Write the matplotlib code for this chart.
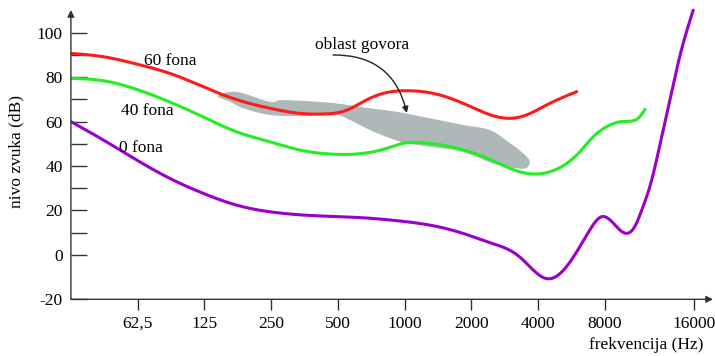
import numpy as np
import matplotlib
matplotlib.use("Agg")
import matplotlib.pyplot as plt

plt.rcParams['font.family'] = 'Liberation Serif'

# ---- data (frequency in Hz, level in dB) ----
red_f = [31.25, 43.8, 61.9, 87.4, 123.5, 152, 187, 247, 337, 429, 550, 649, 774,
         1023, 1300, 1830, 2424, 2884, 3550, 4370, 5980]
red_db = [90.7, 89.2, 85.9, 81.7, 75.7, 72.0, 69.0, 66.0, 63.7, 63.4, 65.2, 68.9,
          72.3, 73.9, 73.0, 68.3, 63.1, 61.5, 63.0, 67.5, 73.5]

green_f = [31.25, 43.8, 61.9, 87.4, 123.5, 174.6, 247, 337, 461, 649, 832, 982,
           1210, 1720, 2424, 3310, 3950, 4665, 6170, 7090, 8150, 9340, 10740,
           11310, 12130]
green_db = [79.5, 78.4, 74.5, 68.8, 62.1, 55.4, 50.9, 47.2, 45.4, 45.7, 48.0, 50.2,
            50.5, 48.0, 43.0, 37.4, 36.4, 37.9, 46.4, 53.2, 57.7, 59.9, 60.4,
            61.5, 65.5]

purple_f = [31.25, 43.8, 61.9, 87.4, 123.5, 174.6, 247, 400, 649, 923, 1300, 1830,
            2424, 3310, 3950, 4370, 5010, 6170, 6850, 7740, 8730, 9850, 10920,
            11900, 12760, 13680, 14650, 15710, 16830, 18040, 20020]
purple_db = [60.0, 51.7, 42.7, 34.4, 27.7, 22.4, 19.4, 17.6, 16.7, 15.4, 13.4, 9.7,
             5.5, -1.0, -8.3, -10.7, -8.5, 3.7, 11.3, 17.2, 14.3, 9.8, 12.8, 21.8,
             30.7, 42.7, 56.2, 69.7, 83.2, 95.2, 110.2]

speech_f = [144, 174.6, 247, 283, 461, 698, 923, 1300, 1830, 2424, 2990, 3420, 3660,
            3550, 3200, 2500, 1830, 1300, 1023, 859, 698, 567, 486, 337, 247, 187, 163]
speech_db = [71.5, 73.4, 68.9, 69.7, 68.5, 66.0, 64.4, 61.5, 58.5, 56.2, 50.3, 45.8,
             42.3, 39.2, 39.0, 41.2, 46.4, 48.7, 50.2, 52.5, 56.2, 60.7, 63.0, 62.5,
             63.0, 66.0, 69.0]

xtick_labels = ["62,5", "125", "250", "500", "1000", "2000", "4000", "8000", "16000"]
xtick_hz = [62.5, 125, 250, 500, 1000, 2000, 4000, 8000, 20200]
ytick_vals = [-20, 0, 10, 20, 30, 40, 50, 60, 70, 80, 90, 100]
ytick_labels = ["-20", "0", "", "20", "", "40", "", "60", "", "80", "", "100"]


def spline(f, v, n=800):
    """Natural cubic spline of level vs log2(frequency)."""
    x = np.log2(np.asarray(f, float))
    y = np.asarray(v, float)
    m = len(x)
    h = np.diff(x)
    A = np.zeros((m, m))
    r = np.zeros(m)
    A[0, 0] = A[-1, -1] = 1
    for i in range(1, m - 1):
        A[i, i - 1] = h[i - 1]
        A[i, i] = 2 * (h[i - 1] + h[i])
        A[i, i + 1] = h[i]
        r[i] = 3 * ((y[i + 1] - y[i]) / h[i] - (y[i] - y[i - 1]) / h[i - 1])
    c = np.linalg.solve(A, r)
    b = (y[1:] - y[:-1]) / h - h * (2 * c[:-1] + c[1:]) / 3
    d = (c[1:] - c[:-1]) / (3 * h)
    xs = np.linspace(x[0], x[-1], n)
    k = np.clip(np.searchsorted(x, xs) - 1, 0, m - 2)
    dx = xs - x[k]
    ys = y[k] + b[k] * dx + c[k] * dx ** 2 + d[k] * dx ** 3
    return 2 ** xs, ys


def closed_smooth(f, v, n=12):
    sx, sy = 66.76, 2.222
    P = np.column_stack([np.log2(f) * sx, np.asarray(v, float) * sy])
    m = len(P)
    t = np.linspace(0, 1, n, endpoint=False)[:, None]
    segs = []
    for i in range(m):
        p0, p1, p2, p3 = P[i - 1], P[i], P[(i + 1) % m], P[(i + 2) % m]
        segs.append(0.5 * (2 * p1 + (-p0 + p2) * t
                           + (2 * p0 - 5 * p1 + 4 * p2 - p3) * t ** 2
                           + (-p0 + 3 * p1 - 3 * p2 + p3) * t ** 3))
    a = np.vstack(segs)
    return 2 ** (a[:, 0] / sx), a[:, 1] / sy


fig = plt.figure(figsize=(7.15, 3.56), dpi=100)
ax = fig.add_axes([70.9 / 715, 1 - 299.3 / 356, (713 - 70.9) / 715, (299.3 - 5) / 356])
ax.set_xscale('log', base=2)
ax.set_xlim(31.25, 31.25 * 2 ** 9.62)
ax.set_ylim(-20, 112.5)

gx, gy = closed_smooth(speech_f, speech_db)
ax.fill(gx, gy, color='#afb8b8', lw=0, zorder=1)

lw = 2.2
ax.plot(*spline(red_f, red_db), color='#ff1a1a', lw=lw, zorder=3,
        solid_capstyle='round')
ax.plot(*spline(green_f, green_db), color='#22ee22', lw=lw, zorder=3,
        solid_capstyle='round')
ax.plot(*spline(purple_f, purple_db), color='#9a00cc', lw=lw, zorder=3,
        solid_capstyle='round')

fs = 12.5
ax.text(87.5, 87.4, "60 fona", ha='center', va='center', fontsize=fs)
ax.text(69.2, 64.8, "40 fona", ha='center', va='center', fontsize=fs)
ax.text(65.0, 48.0, "0 fona", ha='center', va='center', fontsize=fs)
ax.text(642, 94.5, "oblast govora", ha='center', va='center', fontsize=fs)
ax.annotate('', xy=(1023, 63.9), xytext=(475, 90.0),
            arrowprops=dict(arrowstyle='-|>', connectionstyle='arc3,rad=-0.4',
                            color='#222222', lw=1.0, mutation_scale=9,
                            shrinkA=0, shrinkB=0))

for s in ax.spines.values():
    s.set_visible(False)
axc = '#333333'
ax.annotate('', xy=(1.0, 0), xytext=(0, 0), xycoords='axes fraction',
            arrowprops=dict(arrowstyle='-|>', color=axc, lw=1.0, mutation_scale=10,
                            shrinkA=0, shrinkB=0))
ax.annotate('', xy=(0, 0.983), xytext=(0, 0), xycoords='axes fraction',
            arrowprops=dict(arrowstyle='-|>', color=axc, lw=1.0, mutation_scale=10,
                            shrinkA=0, shrinkB=0))

ax.set_xticks(xtick_hz)
ax.set_xticklabels(xtick_labels)
ax.xaxis.set_minor_locator(matplotlib.ticker.NullLocator())
ax.set_yticks(ytick_vals)
ax.set_yticklabels(ytick_labels)
ax.tick_params(axis='x', direction='out', length=8, width=1, pad=4,
               labelsize=fs, color=axc)
ax.tick_params(axis='y', direction='in', length=11.3, width=1, pad=6,
               labelsize=fs, color=axc)

fig.text(16 / 715, 1 - 152 / 356, "nivo zvuka (dB)", rotation=90,
         ha='center', va='center', fontsize=fs)
fig.text(646 / 715, 1 - 345 / 356, "frekvencija (Hz)", ha='center', va='center',
         fontsize=fs)

fig.savefig("out.png", dpi=100)
